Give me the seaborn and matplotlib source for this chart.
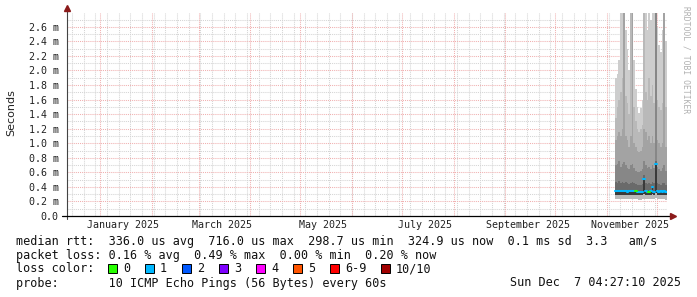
import numpy as np
import pandas as pd
import matplotlib
matplotlib.use("Agg")
import matplotlib.pyplot as plt
from matplotlib.patches import Rectangle
import seaborn as sns

# ---------------- data ----------------
day_starts = pd.date_range("2025-11-06", periods=31, freq="D")
graph_end = pd.Timestamp("2025-12-07 04:27:10")
graph_start = graph_end - pd.Timedelta(days=360)

ping_max = [1.90, 1.95, 2.15, 3.00, 3.00, 3.00, 2.56, 2.30, 2.00, 3.00, 3.00, 2.15, 1.75, 1.50, 1.42, 1.48,
            1.60, 3.00, 3.00, 2.55, 3.00, 2.70, 3.00, 3.00, 3.00, 2.60, 2.35, 2.25, 2.55, 3.00, 2.40]
ping_q90 = [1.35, 1.50, 1.60, 1.70, 1.90, 3.00, 1.65, 1.55, 1.40, 3.00, 3.00, 1.50, 1.30, 1.20, 1.15, 1.20,
            1.25, 3.00, 1.70, 1.60, 1.90, 1.65, 1.80, 1.55, 3.00, 1.60, 1.50, 1.45, 1.55, 3.00, 1.50]
ping_q80 = [1.05, 1.10, 1.15, 1.10, 1.20, 3.00, 1.10, 1.05, 0.95, 1.10, 3.00, 1.00, 0.95, 0.90, 0.88, 0.90,
            0.95, 1.20, 1.15, 1.05, 1.10, 1.00, 1.10, 1.00, 3.00, 1.05, 1.00, 0.95, 1.00, 3.00, 0.95]
ping_q70 = [0.70, 0.72, 0.75, 0.68, 0.72, 0.74, 0.70, 0.66, 0.64, 0.70, 0.72, 0.66, 0.62, 0.60, 0.60, 0.62,
            0.64, 0.75, 0.70, 0.66, 0.68, 0.64, 0.70, 0.66, 3.00, 0.68, 0.64, 0.62, 0.66, 0.70, 0.62]
ping_q60 = [0.47, 0.46, 0.48, 0.45, 0.47, 0.46, 0.47, 0.45, 0.44, 0.46, 0.47, 0.45, 0.44, 0.43, 0.42, 0.43,
            0.44, 0.56, 0.46, 0.44, 0.45, 0.44, 0.47, 0.45, 0.76, 0.46, 0.44, 0.43, 0.45, 0.46, 0.43]
median_rtt = [0.345, 0.338, 0.350, 0.342, 0.346, 0.338, 0.342, 0.336, 0.340, 0.344, 0.338, 0.340, 0.345,
              0.336, 0.332, 0.330, 0.335, 0.510, 0.340, 0.333, 0.336, 0.345, 0.395, 0.335, 0.716, 0.340,
              0.332, 0.338, 0.335, 0.340, 0.325]
ping_low = [0.290, 0.288, 0.292, 0.290, 0.291, 0.288, 0.290, 0.287, 0.289, 0.291, 0.288, 0.290, 0.292,
            0.288, 0.286, 0.285, 0.287, 0.300, 0.290, 0.286, 0.288, 0.290, 0.300, 0.288, 0.310, 0.290,
            0.287, 0.289, 0.288, 0.290, 0.284]
ping_min = [0.235, 0.230, 0.240, 0.232, 0.236, 0.230, 0.234, 0.228, 0.232, 0.236, 0.230, 0.233, 0.238,
            0.230, 0.226, 0.225, 0.228, 0.240, 0.232, 0.227, 0.230, 0.233, 0.240, 0.230, 0.245, 0.232,
            0.228, 0.231, 0.230, 0.233, 0.226]
loss_count = [1, 1, 1, 1, 1, 1, 1, 1, 1, 1, 1, 1, 0, 1, 1, 1, 1, 1, 1, 1, 0, 1, 1, 1, 1, 1, 1, 1, 1, 1, 1]

y_ticks = [0.0, 0.2, 0.4, 0.6, 0.8, 1.0, 1.2, 1.4, 1.6, 1.8, 2.0, 2.2, 2.4, 2.6]
y_tick_labels = ["0.0", "0.2 m", "0.4 m", "0.6 m", "0.8 m", "1.0 m", "1.2 m", "1.4 m", "1.6 m",
                 "1.8 m", "2.0 m", "2.2 m", "2.4 m", "2.6 m"]
month_labels = ["January 2025", "March 2025", "May 2025", "July 2025", "September 2025", "November 2025"]
month_label_dates = ["2025-01-15", "2025-03-15", "2025-05-15", "2025-07-15", "2025-09-15", "2025-11-15"]

loss_names = ["0", "1", "2", "3", "4", "5", "6-9", "10/10"]
loss_colors = ["#26ff00", "#00b8ff", "#0059ff", "#7e00ff", "#ff00ff", "#ff5500", "#ff0000", "#a10000"]

line_rtt = "median rtt:  336.0 us avg  716.0 us max  298.7 us min  324.9 us now  0.1 ms sd  3.3   am/s"
line_loss = "packet loss: 0.16 % avg  0.49 % max  0.00 % min  0.20 % now"
line_probe = "probe:       10 ICMP Echo Pings (56 Bytes) every 60s"
stamp = "Sun Dec  7 04:27:10 2025"

# ---------------- style ----------------
sns.set_style("white")
plt.rcParams["font.family"] = ["DejaVu Sans Mono"]

W, H = 697, 297
fig = plt.figure(figsize=(W / 100, H / 100), dpi=100)
fig.patch.set_facecolor("white")
ax = fig.add_axes([67 / W, (H - 216) / H, 600 / W, 203 / H])
ax.set_facecolor("white")
ymax = 2.79
ax.set_xlim(graph_start, graph_end)
ax.set_ylim(0, ymax)

# grid (dotted)
minor_grid = "#d4d4d4"
major_grid = "#f0b0b0"
gkw = dict(lw=0.75, ls=(0, (1, 1)))
for v in np.arange(0.1, ymax, 0.2):
    ax.axhline(v, color=minor_grid, zorder=0, **gkw)
for wk in pd.date_range(graph_start, graph_end, freq="W-SUN"):
    ax.axvline(wk, color=minor_grid, zorder=0, **gkw)
for v in y_ticks[1:]:
    ax.axhline(v, color=major_grid, zorder=0.5, **gkw)
for ms in pd.date_range(graph_start, graph_end, freq="MS"):
    ax.axvline(ms, color=major_grid, zorder=0.5, **gkw)

# smoke
edges = list(day_starts) + [graph_end]
def pad(a):
    return list(a) + [a[-1]]
layers = [
    (ping_min, ping_low, "#b9b9b9"),
    (ping_low, median_rtt, "#3a3a3a"),
    (median_rtt, ping_q60, "#6a6a6a"),
    (ping_q60, ping_q70, "#878787"),
    (ping_q70, ping_q80, "#a3a3a3"),
    (ping_q80, ping_q90, "#b9b9b9"),
    (ping_q90, ping_max, "#cdcdcd"),
]
for lo, hi, c in layers:
    ax.fill_between(edges, pad(lo), pad(hi), step="post", color=c, lw=0, zorder=2)

# median line coloured by loss
rows = []
for i, (t0, m, l) in enumerate(zip(day_starts, median_rtt, loss_count)):
    t1 = edges[i + 1]
    rows.append({"t": t0, "rtt": m, "seg": i, "loss": loss_names[l]})
    rows.append({"t": t1, "rtt": m, "seg": i, "loss": loss_names[l]})
med_df = pd.DataFrame(rows)
sns.lineplot(data=med_df, x="t", y="rtt", units="seg", estimator=None, hue="loss",
             palette={n: c for n, c in zip(loss_names, loss_colors)}, linewidth=1.5,
             legend=False, ax=ax, zorder=4)

# axes and ticks
for s in ax.spines.values():
    s.set_visible(False)
ax.set_xlabel("")
ax.set_ylabel("")
ax.set_yticks(y_ticks)
ax.set_yticklabels(y_tick_labels, fontsize=7.2, color="#222222")
ax.set_xticks(pd.to_datetime(month_label_dates))
ax.set_xticklabels(month_labels, fontsize=7.2, color="#222222")
ax.tick_params(axis="y", length=2, width=0.6, color="#666666", pad=5, direction="inout")
ax.tick_params(axis="x", length=0, pad=3)

# axis lines with arrows
ax.plot([0, 0], [-3 / 203, 1.0 + 2 / 203], transform=ax.transAxes, color="#444444", lw=0.8,
        clip_on=False, zorder=5)
ax.plot([-5 / 600, 1.0 + 3 / 600], [0, 0], transform=ax.transAxes, color="black", lw=0.9,
        clip_on=False, zorder=5)
ax.plot([0], [1.0 + 5 / 203], marker="^", ms=4, color="#8b1a1a", transform=ax.transAxes,
        clip_on=False, zorder=6)
ax.plot([1.0 + 6 / 600], [0], marker=">", ms=4, color="#8b1a1a", transform=ax.transAxes,
        clip_on=False, zorder=6)

# y label
fig.text(11 / W, 1 - 113 / H, "Seconds", rotation=90, ha="center", va="center",
         fontsize=8, family="DejaVu Sans", color="#222222")
# watermark
fig.text(686 / W, 1 - 6 / H, "RRDTOOL / TOBI OETIKER", rotation=270, ha="center", va="top",
         fontsize=5.8, color="#b0b0b0")

# legend text
fs = 8.5
def fy(y):
    return 1 - y / H
fig.text(16 / W, fy(241), line_rtt, fontsize=fs, va="center", color="#111111")
fig.text(16 / W, fy(255), line_loss, fontsize=fs, va="center", color="#111111")
fig.text(16 / W, fy(268.5), "loss color:", fontsize=fs, va="center", color="#111111")
box_x = [108, 145, 182, 219, 256, 293, 330, 381]
for bx, name, col in zip(box_x, loss_names, loss_colors):
    fig.add_artist(Rectangle((bx / W, fy(268.5 + 4.5)), 9 / W, 9 / H, transform=fig.transFigure,
                             facecolor=col, edgecolor="black", lw=0.7))
    fig.text((bx + 15) / W, fy(268.5), name, fontsize=fs, va="center", color="#111111")
fig.text(16 / W, fy(283), line_probe, fontsize=fs, va="center", color="#111111")
fig.text(681 / W, fy(283), stamp, fontsize=fs, va="center", ha="right", color="#111111")

fig.savefig("out.png", dpi=100, facecolor="white")
